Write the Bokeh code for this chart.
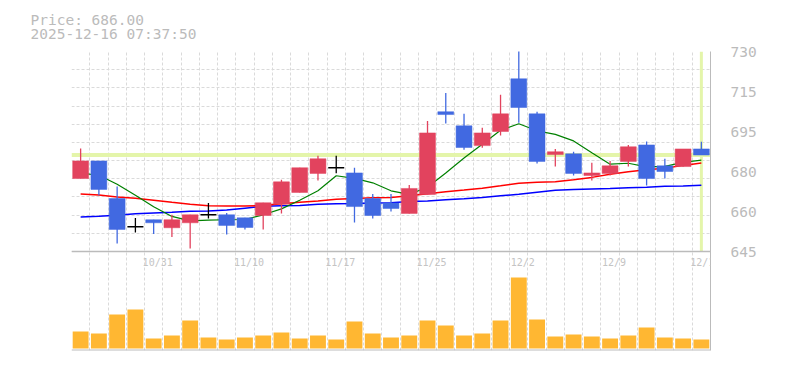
from bokeh.plotting import figure
from bokeh.models import Range1d, FixedTicker, Span, Title, Label
from bokeh.models import ColumnDataSource
from bokeh.embed import file_html
from bokeh.resources import INLINE

# ---------------- data ----------------
dates = ["10/27", "10/28", "10/29", "10/30", "10/31", "11/4", "11/5", "11/6", "11/7",
         "11/10", "11/11", "11/12", "11/13", "11/14", "11/17", "11/18", "11/19", "11/20",
         "11/21", "11/25", "11/26", "11/27", "11/28", "12/1", "12/2", "12/3", "12/4",
         "12/5", "12/8", "12/9", "12/10", "12/11", "12/12", "12/15", "12/16"]
label_dates = ["10/31", "11/10", "11/17", "11/25", "12/2", "12/9", "12/16"]

opens = [676.0, 683.5, 667.5, 655.5, 658.5, 655.1, 657.2, 660.6, 660.6, 659.3,
         660.3, 665.1, 670.1, 678.2, 680.6, 678.4, 667.5, 665.6, 661.2, 669.2,
         704.4, 698.4, 690.0, 696.0, 718.4, 703.5, 686.2, 686.5, 677.3, 678.2,
         683.3, 690.3, 681.4, 681.1, 688.6]
highs = [688.8, 683.5, 672.6, 659.2, 658.5, 660.6, 660.6, 665.6, 661.4, 659.3,
         665.7, 675.5, 680.6, 685.7, 685.7, 680.6, 669.4, 669.4, 673.3, 700.5,
         712.4, 703.5, 697.6, 711.6, 731.0, 704.4, 688.6, 687.4, 682.7, 683.5,
         690.3, 691.7, 684.4, 688.6, 691.6]
lows = [676.0, 668.9, 648.4, 653.1, 652.4, 651.2, 646.3, 659.0, 652.2, 654.4,
        654.4, 661.2, 670.1, 675.2, 678.3, 657.3, 659.0, 662.0, 661.2, 669.2,
        699.4, 688.2, 689.1, 694.3, 699.7, 682.4, 681.1, 677.3, 675.2, 677.3,
        681.1, 673.1, 676.0, 681.1, 686.0]
closes = [683.5, 671.4, 654.4, 655.5, 657.2, 658.5, 660.6, 660.6, 656.1, 655.2,
          665.7, 674.6, 680.6, 684.4, 680.6, 664.1, 660.3, 663.3, 671.8, 695.4,
          703.2, 689.2, 695.4, 703.5, 706.2, 683.3, 687.4, 678.2, 678.4, 681.4,
          689.5, 676.0, 679.0, 688.6, 686.0]

ma_short = [678.3, 677.4, 673.6, 668.9, 664.0, 659.9, 658.0, 658.3, 658.5, 658.6,
            660.6, 663.1, 666.8, 670.8, 677.2, 676.1, 674.2, 670.8, 669.3, 672.3,
            678.4, 684.7, 690.6, 696.5, 699.3, 696.3, 694.8, 692.0, 687.0, 682.1,
            682.5, 681.0, 681.2, 682.9, 683.8]
ma_mid = [669.4, 669.0, 668.2, 667.6, 666.8, 665.9, 665.1, 664.4, 664.3, 664.3,
          664.6, 665.3, 665.9, 666.5, 667.2, 667.5, 667.8, 668.0, 668.7, 669.5,
          670.4, 671.1, 671.9, 672.9, 674.0, 674.4, 674.6, 675.5, 676.5, 677.8,
          678.9, 679.7, 680.4, 681.6, 682.6]
ma_long = [659.7, 660.0, 660.4, 661.0, 661.4, 661.7, 662.1, 662.2, 662.6, 663.4,
           664.2, 664.4, 664.6, 665.1, 665.3, 665.4, 665.6, 665.7, 666.3, 666.5,
           667.0, 667.4, 668.0, 668.7, 669.3, 670.2, 671.0, 671.4, 671.6, 671.8,
           672.1, 672.3, 672.7, 672.8, 673.2]

volumes = [17, 15, 34, 39, 10, 13, 28, 11, 9, 11, 13, 16, 10, 13, 9, 27, 15, 11,
           13, 28, 23, 13, 15, 28, 71, 29, 12, 14, 12, 10, 13, 21, 11, 10, 9]

price_ticks = [645, 662, 679, 696, 713, 730]
price_tick_labels = ["645", "660", "680", "695", "715", "730"]
timestamp = "2025-12-16 07:37:50"

# ---------------- styles ----------------
UP = "#E2435E"
DOWN = "#4169E1"
EVEN = "#000000"
VOL = "#FFB732"
GRID = "#dadada"
AXIS = "#bbbbbb"
TXT = "#bbbbbb"
MARK = "#e4f5aa"
FONT = "DejaVu Sans Mono"

PRICE_PX = 200      # height of price pane in px
VOL_PX = 99         # height of volume pane in px

n = len(dates)
idx = list(range(n))
cols = [UP if c > o else (DOWN if c < o else EVEN) for o, c in zip(opens, closes)]
body = [i for i in idx if opens[i] != closes[i]]
doji = [i for i in idx if opens[i] == closes[i]]

src = ColumnDataSource(dict(x=idx, o=opens, h=highs, l=lows, c=closes, col=cols,
                            top=[max(a, b) for a, b in zip(opens, closes)],
                            bot=[min(a, b) for a, b in zip(opens, closes)]))
bsrc = ColumnDataSource({k: [v[i] for i in body] for k, v in src.data.items()})
dsrc = ColumnDataSource({k: [v[i] for i in doji] for k, v in src.data.items()})

lo, hi = price_ticks[0], price_ticks[-1]
ppx = (hi - lo) / PRICE_PX
y_start = lo - VOL_PX * ppx

p = figure(frame_width=639, frame_height=PRICE_PX + VOL_PX,
           x_range=Range1d(-0.5, n - 0.5), y_range=Range1d(y_start, hi),
           x_axis_location=None, y_axis_location="right", title_location=None,
           output_backend="svg", toolbar_location=None,
           min_border_left=71, min_border_right=59, min_border_top=51,
           min_border_bottom=8, outline_line_color=None)
p.extra_y_ranges = {"vol": Range1d(-2, PRICE_PX + VOL_PX - 2)}

p.yaxis.ticker = FixedTicker(ticks=price_ticks)
p.yaxis.major_label_overrides = {t: s for t, s in zip(price_ticks, price_tick_labels)}
p.yaxis.axis_line_color = AXIS
p.yaxis.major_tick_line_color = None
p.yaxis.minor_tick_line_color = None
p.yaxis.major_label_text_font = FONT
p.yaxis.major_label_text_font_size = "14.5px"
p.yaxis.major_label_text_color = TXT
p.yaxis.major_label_standoff = 14

p.ygrid.ticker = FixedTicker(ticks=[lo + k * (hi - lo) / 11 for k in range(12)])
p.xgrid.ticker = FixedTicker(ticks=[i - 0.5 for i in range(n + 1)])
for g in (p.xgrid, p.ygrid):
    g.grid_line_color = GRID
    g.grid_line_dash = "3 2"
    g.grid_line_width = 1

# current price markers
p.add_layout(Span(location=closes[-1], dimension="width", line_color=MARK,
                  line_width=4, level="underlay"))
p.segment(x0=[idx[-1]], y0=[lo], x1=[idx[-1]], y1=[hi], line_color=MARK, line_width=3)

# pane borders
p.add_layout(Span(location=lo, dimension="width", line_color=AXIS, line_width=1.5))
p.add_layout(Span(location=y_start, dimension="width", line_color=AXIS, line_width=2))

# moving averages
p.line(idx, ma_long, line_color="#0000ff", line_width=1.5)
p.line(idx, ma_mid, line_color="#ff0000", line_width=1.5)
p.line(idx, ma_short, line_color="#008000", line_width=1.2)

# candles
p.segment(x0="x", y0="h", x1="x", y1="l", line_color="col", line_width=1.3, source=src)
p.vbar(x="x", top="top", bottom="bot", width=0.87, fill_color="col",
       line_color="col", line_width=0.5, source=bsrc)
p.dash(x="x", y="o", size=16, line_color="col", line_width=1.5, source=dsrc)

# volume
p.vbar(x=idx, top=volumes, bottom=0, width=0.87, fill_color=VOL, line_color=None,
       y_range_name="vol")

# date labels
for d in label_dates:
    p.add_layout(Label(x=dates.index(d), y=86, y_range_name="vol", text=d,
                       x_offset=4, text_align="center", text_baseline="middle",
                       text_font=FONT, text_font_size="10px", text_color="#c4c4c4"))

# header (two lines in one title)
p.add_layout(Title(text=f"Price: {closes[-1]:.2f}\n{timestamp}", align="left",
                   offset=-41, standoff=17, vertical_align="middle",
                   text_line_height=0.89, text_font=FONT, text_font_size="14.5px",
                   text_color=TXT, text_font_style="normal"), "above")

open("out.html", "w").write(file_html(p, INLINE))
